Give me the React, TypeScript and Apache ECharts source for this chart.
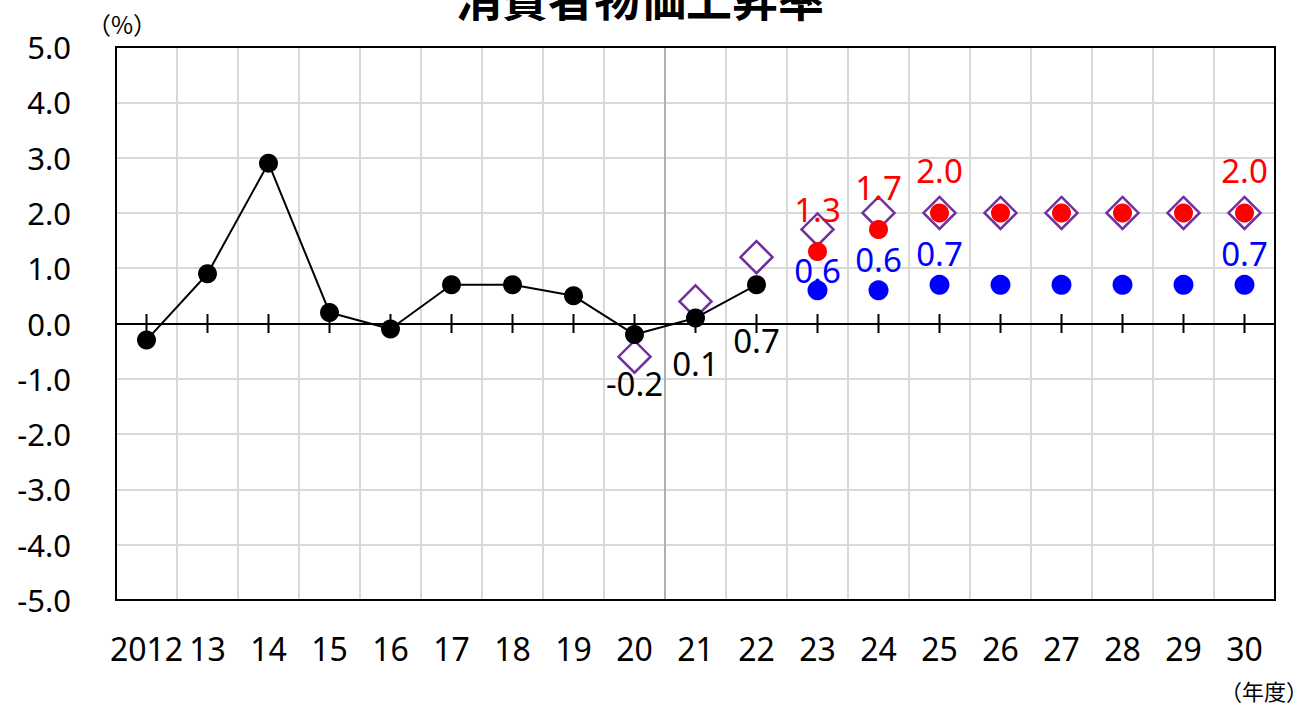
import React, { useEffect, useRef } from "react";
import * as echarts from "echarts";

// 年度
const categories = ["2012", "13", "14", "15", "16", "17", "18", "19", "20", "21", "22", "23", "24", "25", "26", "27", "28", "29", "30"];

// 実績
const actual: (number | null)[] = [-0.3, 0.9, 2.9, 0.2, -0.1, 0.7, 0.7, 0.5, -0.2, 0.1, 0.7, null, null, null, null, null, null, null, null];
// 前回見通し
const previous: (number | null)[] = [null, null, null, null, null, null, null, null, -0.6, 0.4, 1.2, 1.7, 2.0, 2.0, 2.0, 2.0, 2.0, 2.0, 2.0];
// 成長実現ケース
const growthCase: (number | null)[] = [null, null, null, null, null, null, null, null, null, null, null, 1.3, 1.7, 2.0, 2.0, 2.0, 2.0, 2.0, 2.0];
// ベースラインケース
const baselineCase: (number | null)[] = [null, null, null, null, null, null, null, null, null, null, null, 0.6, 0.6, 0.7, 0.7, 0.7, 0.7, 0.7, 0.7];

// 値ラベルを付ける年度
const actualLabeled = ["20", "21", "22"];
const growthLabeled = ["23", "24", "25", "30"];
const baselineLabeled = ["23", "24", "25", "30"];

const yTicks = [-5, -4, -3, -2, -1, 0, 1, 2, 3, 4, 5];

const FONT = "'Noto Sans', 'Noto Sans CJK JP', sans-serif";
const CJK = "'Noto Sans CJK JP', sans-serif";

export default function App() {
  const ref = useRef<HTMLDivElement>(null);

  useEffect(() => {
    if (!ref.current) return;
    const chart = echarts.init(ref.current, undefined, { renderer: "svg" });

    const labelled = (
      values: (number | null)[],
      which: string[],
      color: string,
      offsets: Record<string, number>,
      dflt: number
    ) =>
      values.map((v, i) => {
        const cat = categories[i];
        if (v === null) return null;
        if (!which.includes(cat)) return v;
        return {
          value: v,
          label: {
            show: true,
            position: "inside",
            offset: [0, offsets[cat] ?? dflt],
            formatter: (p: any) => Number(p.value).toFixed(1),
            color,
            fontSize: 33,
            fontFamily: FONT,
          },
        };
      });

    const option: any = {
      animation: false,
      grid: {
        left: 116,
        right: 37,
        top: 47,
        bottom: 109,
        show: false,
      },
      xAxis: {
        type: "category",
        data: categories,
        boundaryGap: true,
        axisLine: { show: false },
        axisTick: { show: false },
        axisLabel: {
          color: "#000",
          fontSize: 32,
          fontFamily: FONT,
          margin: 32,
          interval: 0,
        },
        splitLine: { show: true, lineStyle: { color: "#d9d9d9", width: 2 } },
      },
      yAxis: {
        type: "value",
        min: yTicks[0],
        max: yTicks[yTicks.length - 1],
        interval: 1,
        axisLine: { show: false },
        axisTick: { show: false },
        axisLabel: {
          color: "#000",
          fontSize: 31,
          fontFamily: FONT,
          margin: 45,
          formatter: (v: number) => v.toFixed(1),
        },
        splitLine: { show: true, lineStyle: { color: "#d9d9d9", width: 2 } },
      },
      series: [
        {
          // 0% の基準線と目盛り
          type: "scatter",
          data: categories.map(() => 0),
          symbol: "rect",
          symbolSize: [2, 19],
          itemStyle: { color: "#000", opacity: 1 },
          silent: true,
          z: 2,
          markLine: {
            silent: true,
            symbol: "none",
            label: { show: false },
            lineStyle: { color: "#000", width: 2, type: "solid" },
            data: [{ yAxis: 0 }],
          },
        },
        {
          name: "実績",
          type: "line",
          data: labelled(actual, actualLabeled, "#000", { "20": 49, "21": 46, "22": 56 }, 50),
          symbol: "circle",
          symbolSize: 19,
          lineStyle: { color: "#000", width: 2 },
          itemStyle: { color: "#000", opacity: 1 },
          connectNulls: false,
          z: 5,
        },
        {
          name: "前回見通し",
          type: "scatter",
          data: previous,
          symbol: "diamond",
          symbolSize: [32, 32],
          itemStyle: { color: "#fff", borderColor: "#7030a0", borderWidth: 2.5, opacity: 1 },
          z: 4,
        },
        {
          name: "成長実現ケース",
          type: "scatter",
          data: labelled(growthCase, growthLabeled, "#ff0000", {}, -42),
          symbol: "circle",
          symbolSize: 19,
          itemStyle: { color: "#ff0000", opacity: 1 },
          z: 6,
        },
        {
          name: "ベースラインケース",
          type: "scatter",
          data: labelled(baselineCase, baselineLabeled, "#0000ff", { "23": -20 }, -31),
          symbol: "circle",
          symbolSize: 20,
          itemStyle: { color: "#0000ff", opacity: 1 },
          z: 6,
        },
      ],
    };

    chart.setOption(option);

    // プロット領域の枠と、実績と見通しの境目（20年度と21年度の間）
    const x20 = chart.convertToPixel({ xAxisIndex: 0 }, "20") as number;
    const x21 = chart.convertToPixel({ xAxisIndex: 0 }, "21") as number;
    const yTop = chart.convertToPixel({ yAxisIndex: 0 }, yTicks[yTicks.length - 1]) as number;
    const yBottom = chart.convertToPixel({ yAxisIndex: 0 }, yTicks[0]) as number;
    const step = x21 - x20;
    const xLeft = (chart.convertToPixel({ xAxisIndex: 0 }, categories[0]) as number) - step / 2;
    const xRight = (chart.convertToPixel({ xAxisIndex: 0 }, categories[categories.length - 1]) as number) + step / 2;
    const xDiv = (x20 + x21) / 2;

    chart.setOption({
      graphic: [
        {
          type: "line",
          shape: { x1: xDiv, y1: yTop, x2: xDiv, y2: yBottom },
          style: { stroke: "#b0b0b0", lineWidth: 2 },
          z: 1,
          silent: true,
        },
        {
          type: "rect",
          shape: { x: xLeft, y: yTop, width: xRight - xLeft, height: yBottom - yTop },
          style: { fill: "none", stroke: "#000", lineWidth: 2 },
          z: 100,
          silent: true,
        },
        {
          type: "text",
          x: 640,
          y: 19,
          style: {
            text: "消費者物価上昇率",
            font: `bold 46px ${CJK}`,
            fill: "#000",
            align: "center",
            verticalAlign: "bottom",
          },
        },
        {
          type: "text",
          x: 122,
          y: 23,
          style: {
            text: "（%）",
            font: `24px ${CJK}`,
            fill: "#000",
            align: "center",
            verticalAlign: "middle",
          },
        },
        {
          type: "text",
          x: 1264,
          y: 690,
          style: {
            text: "（年度）",
            font: `22px ${CJK}`,
            fill: "#000",
            align: "center",
            verticalAlign: "middle",
          },
        },
      ],
    });

    return () => chart.dispose();
  }, []);

  return (
    <div
      ref={ref}
      style={{ position: "fixed", left: 0, top: 0, width: 1312, height: 709, background: "#fff" }}
    />
  );
}
